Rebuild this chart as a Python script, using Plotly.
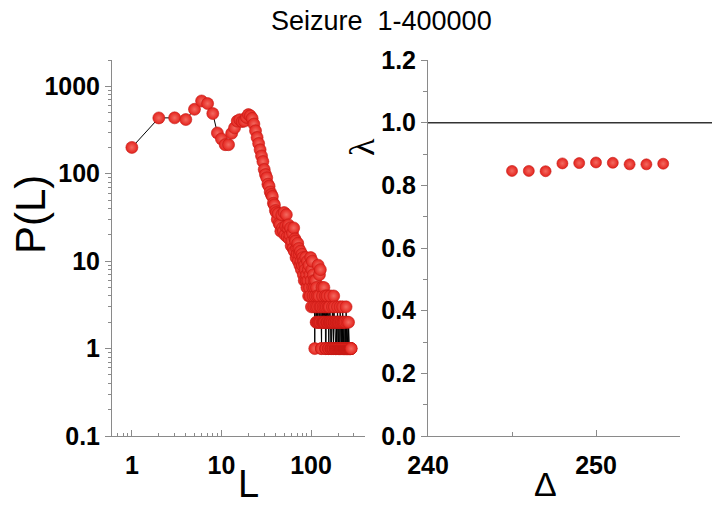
import plotly.graph_objects as go

# ---------------- data ----------------
L_MAX = 280
L_VALUES = list(range(1, L_MAX + 1))
P_VALUES = [
    # 1-24
    200, 435, 436, 417, 546, 680, 635, 488, 293, 250, 215, 215, 290, 335, 400, 415,
    395, 400, 440, 475, 460, 430, 370, 310,
    # 25-60
    260, 222, 188, 160, 138, 112, 98, 90, 76, 72, 62, 58, 55, 46, 44, 38, 36, 30,
    35, 27, 26, 22, 34, 24, 22, 36, 20, 25, 34, 19, 24, 26, 18, 20, 24, 15,
    # 61-100
    17, 21, 14, 24, 13, 18, 17, 11, 14, 12, 16, 10, 14, 12, 9, 13, 10, 8, 12, 9,
    11, 7, 10, 6, 9, 8, 11, 6, 7, 5, 10, 6, 8, 4, 9, 5, 7, 4, 11, 6,
    # 101-120
    3, 8, 10, 5, 4, 7, 3, 6, 5, 1, 4, 6, 3, 2, 5, 2, 4, 3, 2, 9,
    # 121-140
    2, 4, 2, 7, 3, 2, 8, 2, 3, 1, 1, 5, 2, 4, 2, 3, 2, 2, 5, 2,
    # 141-160
    2, 3, 2, 4, 1, 1, 1, 3, 2, 2, 4, 2, 2, 2, 3, 1, 1, 1, 2, 3,
    # 161-180
    2, 2, 4, 2, 2, 1, 1, 1, 1, 2, 2, 2, 3, 2, 1, 1, 1, 1, 4, 2,
    # 181-200
    2, 3, 2, 2, 1, 1, 1, 1, 1, 2, 2, 2, 1, 1, 1, 1, 3, 2, 2, 1,
    # 201-220
    1, 1, 1, 2, 2, 2, 1, 1, 1, 1, 3, 2, 1, 1, 1, 1, 1, 2, 2, 1,
    # 221-240
    1, 1, 1, 1, 3, 2, 2, 1, 1, 1, 1, 1, 2, 2, 1, 1, 1, 1, 1, 1,
    # 241-260
    2, 1, 1, 1, 1, 3, 1, 1, 1, 1, 1, 2, 1, 1, 1, 1, 1, 1, 1, 1,
    # 261-280
    1, 2, 1, 1, 1, 1, 1, 1, 1, 1, 1, 1, 1, 1, 1, 1, 1, 1, 1, 1,
]

DELTA = [245, 246, 247, 248, 249, 250, 251, 252, 253, 254]
LAMBDA = [0.846, 0.846, 0.845, 0.870, 0.871, 0.873, 0.872, 0.867, 0.867, 0.869]

TITLE = "Seizure  1-400000"
LEFT_XTICKS = [1, 10, 100]
LEFT_YTICKS = [0.1, 1, 10, 100, 1000]

# ---------------- figure ----------------
W, H = 712, 506
RED = "#e4231d"
AXC = "#8a8a8a"
FONT = "Liberation Sans"

def px(x):
    return x / W

def py(y):
    return 1 - y / H

fig = go.Figure()

fig.add_trace(go.Scatter(
    x=L_VALUES, y=P_VALUES, mode="lines+markers",
    line=dict(color="black", width=1),
    marker=dict(size=12, color=RED, line=dict(color="#c41a14", width=0.6),
                gradient=dict(type="radial", color="#f36a60")),
    xaxis="x", yaxis="y", showlegend=False,
))

fig.add_trace(go.Scatter(
    x=DELTA, y=LAMBDA, mode="markers",
    marker=dict(size=11, color=RED, line=dict(color="#c41a14", width=0.6),
                gradient=dict(type="radial", color="#f36a60")),
    xaxis="x2", yaxis="y2", showlegend=False,
))

tickfont = dict(family=FONT, size=25, color="black", weight="bold")

minor_log_x = [0.6, 0.7, 0.8, 0.9, 2, 3, 4, 5, 6, 7, 8, 9,
               20, 30, 40, 50, 60, 70, 80, 90, 200, 300, 400]
minor_log_y = [0.2, 0.3, 0.4, 0.5, 0.6, 0.7, 0.8, 0.9,
               2, 3, 4, 5, 6, 7, 8, 9, 20, 30, 40, 50, 60, 70, 80, 90,
               200, 300, 400, 500, 600, 700, 800, 900, 2000]

common = dict(showline=True, linecolor=AXC, linewidth=1, showgrid=False,
              zeroline=False, tickfont=tickfont, automargin=False,
              tickcolor=AXC, tickwidth=1, ticklen=6)

fig.update_layout(
    template="none",
    width=W, height=H,
    margin=dict(l=0, r=0, t=0, b=0, pad=0, autoexpand=False),
    paper_bgcolor="white", plot_bgcolor="white",
    xaxis=dict(
        domain=[px(112), px(365)], type="log",
        range=[-0.2218, 2.6021],
        tickmode="array", tickvals=LEFT_XTICKS, ticktext=[str(v) for v in LEFT_XTICKS],
        ticks="inside",
        minor=dict(ticks="inside", ticklen=3, tickcolor=AXC, tickvals=minor_log_x, showgrid=False),
        ticklabelstandoff=7, anchor="y", **common,
    ),
    yaxis=dict(
        domain=[py(436), py(60)], type="log",
        range=[-1, 3.301],
        tickmode="array", tickvals=LEFT_YTICKS, ticktext=["0.1", "1", "10", "100", "1000"],
        ticks="outside",
        minor=dict(ticks="outside", ticklen=3, tickcolor=AXC, tickvals=minor_log_y, showgrid=False),
        anchor="x", **common,
    ),
    xaxis2=dict(
        domain=[px(428), px(680)],
        range=[240, 255],
        tickmode="array", tickvals=[240, 250],
        ticks="inside",
        minor=dict(ticks="inside", ticklen=4, tickcolor=AXC, tickvals=[245, 255], showgrid=False),
        ticklabelstandoff=7, anchor="y2", **common,
    ),
    yaxis2=dict(
        domain=[py(436), py(60)],
        range=[0, 1.2],
        tickmode="linear", tick0=0, dtick=0.2, tickformat=".1f",
        ticks="outside",
        minor=dict(ticks="outside", ticklen=4, tickcolor=AXC, dtick=0.1, showgrid=False),
        anchor="x2", **common,
    ),
    shapes=[dict(type="line", xref="paper", yref="y2",
                 x0=px(428), x1=1.0, y0=1.0, y1=1.0,
                 line=dict(color="#333333", width=1.5))],
    annotations=[
        dict(text=TITLE, xref="paper", yref="paper", x=px(381), y=py(21),
             showarrow=False, font=dict(family=FONT, size=27, color="black"),
             xanchor="center", yanchor="middle"),
        dict(text="P(L)", xref="paper", yref="paper", x=px(30), y=py(215),
             showarrow=False, textangle=-90, font=dict(family=FONT, size=42, color="black"),
             xanchor="center", yanchor="middle"),
        dict(text="L", xref="paper", yref="paper", x=px(248), y=py(484),
             showarrow=False, font=dict(family=FONT, size=38, color="black"),
             xanchor="center", yanchor="middle"),
        dict(text="\u0394", xref="paper", yref="paper", x=px(545), y=py(484),
             showarrow=False, font=dict(family=FONT, size=34, color="black"),
             xanchor="center", yanchor="middle"),
        dict(text="\u03bb", xref="paper", yref="paper", x=px(362), y=py(147),
             showarrow=False, textangle=-90, font=dict(family="Liberation Serif", size=36, color="black"),
             xanchor="center", yanchor="middle"),
    ],
)

fig.write_html("out.html")
